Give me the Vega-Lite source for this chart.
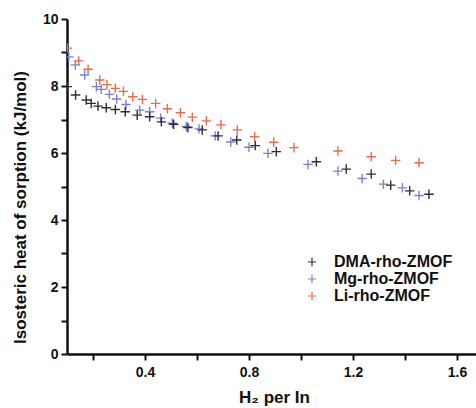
{
  "$schema": "https://vega.github.io/schema/vega-lite/v6.json",
  "width": 409,
  "height": 335,
  "autosize": {"type": "none"},
  "padding": {"left": 67, "top": 19, "right": 0, "bottom": 54},
  "background": "white",
  "config": {
    "font": "Liberation Sans",
    "view": {"stroke": null}
  },
  "data": {
    "values": [
      {"s": "Li-rho-ZMOF", "x": 0.101, "y": 9.13},
      {"s": "Li-rho-ZMOF", "x": 0.145, "y": 8.75},
      {"s": "Li-rho-ZMOF", "x": 0.181, "y": 8.50},
      {"s": "Li-rho-ZMOF", "x": 0.226, "y": 8.18},
      {"s": "Li-rho-ZMOF", "x": 0.254, "y": 8.04},
      {"s": "Li-rho-ZMOF", "x": 0.286, "y": 7.93},
      {"s": "Li-rho-ZMOF", "x": 0.317, "y": 7.84},
      {"s": "Li-rho-ZMOF", "x": 0.353, "y": 7.68},
      {"s": "Li-rho-ZMOF", "x": 0.390, "y": 7.60},
      {"s": "Li-rho-ZMOF", "x": 0.441, "y": 7.48},
      {"s": "Li-rho-ZMOF", "x": 0.486, "y": 7.32},
      {"s": "Li-rho-ZMOF", "x": 0.536, "y": 7.20},
      {"s": "Li-rho-ZMOF", "x": 0.582, "y": 7.07},
      {"s": "Li-rho-ZMOF", "x": 0.636, "y": 6.96},
      {"s": "Li-rho-ZMOF", "x": 0.692, "y": 6.84},
      {"s": "Li-rho-ZMOF", "x": 0.755, "y": 6.69},
      {"s": "Li-rho-ZMOF", "x": 0.822, "y": 6.49},
      {"s": "Li-rho-ZMOF", "x": 0.895, "y": 6.32},
      {"s": "Li-rho-ZMOF", "x": 0.973, "y": 6.16},
      {"s": "Li-rho-ZMOF", "x": 1.142, "y": 6.06},
      {"s": "Li-rho-ZMOF", "x": 1.270, "y": 5.89},
      {"s": "Li-rho-ZMOF", "x": 1.364, "y": 5.78},
      {"s": "Li-rho-ZMOF", "x": 1.454, "y": 5.71},
      {"s": "Mg-rho-ZMOF", "x": 0.107, "y": 8.87},
      {"s": "Mg-rho-ZMOF", "x": 0.132, "y": 8.63},
      {"s": "Mg-rho-ZMOF", "x": 0.168, "y": 8.33},
      {"s": "Mg-rho-ZMOF", "x": 0.213, "y": 7.98},
      {"s": "Mg-rho-ZMOF", "x": 0.232, "y": 7.90},
      {"s": "Mg-rho-ZMOF", "x": 0.263, "y": 7.75},
      {"s": "Mg-rho-ZMOF", "x": 0.291, "y": 7.61},
      {"s": "Mg-rho-ZMOF", "x": 0.327, "y": 7.45},
      {"s": "Mg-rho-ZMOF", "x": 0.380, "y": 7.28},
      {"s": "Mg-rho-ZMOF", "x": 0.418, "y": 7.23},
      {"s": "Mg-rho-ZMOF", "x": 0.460, "y": 7.04},
      {"s": "Mg-rho-ZMOF", "x": 0.505, "y": 6.89},
      {"s": "Mg-rho-ZMOF", "x": 0.559, "y": 6.79},
      {"s": "Mg-rho-ZMOF", "x": 0.608, "y": 6.72},
      {"s": "Mg-rho-ZMOF", "x": 0.670, "y": 6.51},
      {"s": "Mg-rho-ZMOF", "x": 0.730, "y": 6.33},
      {"s": "Mg-rho-ZMOF", "x": 0.800, "y": 6.17},
      {"s": "Mg-rho-ZMOF", "x": 0.873, "y": 5.99},
      {"s": "Mg-rho-ZMOF", "x": 1.027, "y": 5.66},
      {"s": "Mg-rho-ZMOF", "x": 1.142, "y": 5.46},
      {"s": "Mg-rho-ZMOF", "x": 1.235, "y": 5.24},
      {"s": "Mg-rho-ZMOF", "x": 1.317, "y": 5.07},
      {"s": "Mg-rho-ZMOF", "x": 1.390, "y": 4.96},
      {"s": "Mg-rho-ZMOF", "x": 1.454, "y": 4.73},
      {"s": "DMA-rho-ZMOF", "x": 0.101, "y": 7.98},
      {"s": "DMA-rho-ZMOF", "x": 0.133, "y": 7.73},
      {"s": "DMA-rho-ZMOF", "x": 0.174, "y": 7.58},
      {"s": "DMA-rho-ZMOF", "x": 0.193, "y": 7.48},
      {"s": "DMA-rho-ZMOF", "x": 0.219, "y": 7.40},
      {"s": "DMA-rho-ZMOF", "x": 0.251, "y": 7.35},
      {"s": "DMA-rho-ZMOF", "x": 0.286, "y": 7.30},
      {"s": "DMA-rho-ZMOF", "x": 0.324, "y": 7.23},
      {"s": "DMA-rho-ZMOF", "x": 0.370, "y": 7.13},
      {"s": "DMA-rho-ZMOF", "x": 0.418, "y": 7.08},
      {"s": "DMA-rho-ZMOF", "x": 0.463, "y": 6.93},
      {"s": "DMA-rho-ZMOF", "x": 0.510, "y": 6.86},
      {"s": "DMA-rho-ZMOF", "x": 0.565, "y": 6.76},
      {"s": "DMA-rho-ZMOF", "x": 0.620, "y": 6.69},
      {"s": "DMA-rho-ZMOF", "x": 0.681, "y": 6.51},
      {"s": "DMA-rho-ZMOF", "x": 0.753, "y": 6.39},
      {"s": "DMA-rho-ZMOF", "x": 0.824, "y": 6.22},
      {"s": "DMA-rho-ZMOF", "x": 0.905, "y": 6.04},
      {"s": "DMA-rho-ZMOF", "x": 1.059, "y": 5.74},
      {"s": "DMA-rho-ZMOF", "x": 1.174, "y": 5.52},
      {"s": "DMA-rho-ZMOF", "x": 1.270, "y": 5.37},
      {"s": "DMA-rho-ZMOF", "x": 1.345, "y": 5.04},
      {"s": "DMA-rho-ZMOF", "x": 1.418, "y": 4.87},
      {"s": "DMA-rho-ZMOF", "x": 1.492, "y": 4.77}
    ]
  },
  "mark": {
    "type": "point",
    "shape": "M-1,0L1,0M0,-1L0,1",
    "filled": false,
    "size": 90,
    "strokeWidth": 1.4,
    "opacity": 1,
    "clip": true
  },
  "encoding": {
    "x": {
      "field": "x",
      "type": "quantitative",
      "scale": {"domain": [0.1, 1.673], "nice": false, "zero": false},
      "axis": {
        "title": "H₂ per In",
        "titleFont": "Liberation Sans",
        "titleFontSize": 17,
        "titleFontWeight": "bold",
        "titleColor": "#111",
        "titleX": 207,
        "titleY": 48,
        "titleBaseline": "alphabetic",
        "values": [0.2, 0.4, 0.6, 0.8, 1.0, 1.2, 1.4, 1.6],
        "labelExpr": "(round(datum.value*10) % 4 == 0) ? format(datum.value, '.1f') : ''",
        "labelFontSize": 14,
        "labelFontWeight": "bold",
        "labelColor": "#111",
        "labelPadding": 5,
        "labelFlush": false,
        "tickSize": 6,
        "tickWidth": 2,
        "tickColor": "#111",
        "domainColor": "#111",
        "domainWidth": 2.5,
        "grid": false
      }
    },
    "y": {
      "field": "y",
      "type": "quantitative",
      "scale": {"domain": [0, 10], "nice": false},
      "axis": {
        "title": "Isosteric heat of sorption (kJ/mol)",
        "titleFont": "Liberation Sans",
        "titleFontSize": 17,
        "titleFontWeight": "bold",
        "titleColor": "#111",
        "titleX": -47,
        "titleY": 188,
        "titleAngle": -90,
        "titleAlign": "center",
        "titleBaseline": "middle",
        "values": [0, 1, 2, 3, 4, 5, 6, 7, 8, 9, 10],
        "labelExpr": "(datum.value % 2 == 0) ? format(datum.value, 'd') : ''",
        "labelFontSize": 14,
        "labelFontWeight": "bold",
        "labelColor": "#111",
        "labelPadding": 3,
        "labelFlush": false,
        "tickSize": 6,
        "tickWidth": 2,
        "tickColor": "#111",
        "domainColor": "#111",
        "domainWidth": 2.5,
        "grid": false
      }
    },
    "color": {
      "field": "s",
      "type": "nominal",
      "scale": {
        "domain": ["DMA-rho-ZMOF", "Mg-rho-ZMOF", "Li-rho-ZMOF"],
        "range": ["#2e2e3a", "#7c80d4", "#f06a48"]
      },
      "legend": {
        "title": null,
        "orient": "none",
        "legendX": 237,
        "legendY": 235,
        "padding": 0,
        "labelFontSize": 16,
        "labelFontWeight": "bold",
        "labelColor": "#111",
        "labelOffset": 14,
        "rowPadding": 1,
        "symbolSize": 70,
        "symbolStrokeWidth": 1.2
      }
    }
  }
}
